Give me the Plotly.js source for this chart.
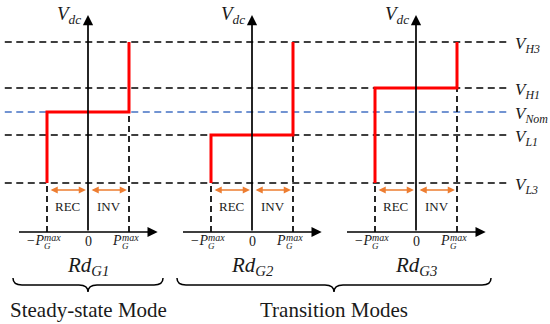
<!DOCTYPE html>
<html><head><meta charset="utf-8">
<script src="https://cdn.plot.ly/plotly-3.0.1.min.js"></script>
<style>html,body{margin:0;padding:0;background:#fff}#chart{width:550px;height:324px}</style>
</head><body><div id="chart"></div>
<script>
// ---- data ----
const levelNames = ['H3', 'H1', 'Nom', 'L1', 'L3'];
const levelValues = [190, 144, 120, 97, 49];      // V_dc levels (schematic units)
const panelNames = ['G1', 'G2', 'G3'];
const panelMidLevel = ['Nom', 'L1', 'H1'];        // level of the horizontal step in each panel
const panelOffsets = [0, 4, 8];                   // panel centres, in units of P_G^max
const pMax = 1;
const tickLabels = ['\u2212P', '0', 'P'];
const regionLabels = ['REC', 'INV'];
const modeNames = ['Steady-state Mode', 'Transition Modes'];
const modePanels = [[0], [1, 2]];

// ---- helpers ----
const lv = n => levelValues[levelNames.indexOf(n)];
const vLow = lv('L3');
const SERIF = 'Liberation Serif, Times New Roman, serif';
const INK = '#1a1a1a';
const traces = [];
const ann = [];
const shapes = [];

// horizontal dashed level lines
levelNames.forEach((n, i) => {
  traces.push({
    x: [-2.03, 10.24], y: [levelValues[i], levelValues[i]], mode: 'lines',
    line: {color: n === 'Nom' ? '#4472C4' : '#000', width: 1.7, dash: '7px,4.5px'},
    hoverinfo: 'skip'
  });
  ann.push({
    x: 10.37, y: levelValues[i], xref: 'x', yref: 'y', xanchor: 'left', yanchor: 'middle',
    yshift: -3, showarrow: false,
    text: '<i>V<sub>' + n + '</sub></i>', font: {family: SERIF, size: 17, color: INK}
  });
});

panelOffsets.forEach((off, p) => {
  const mid = lv(panelMidLevel[p]);
  // vertical dashed lines at +/- Pmax
  traces.push({x: [off - pMax, off - pMax], y: [0, vLow], mode: 'lines',
    line: {color: '#000', width: 1.7, dash: '6px,4px'}, hoverinfo: 'skip'});
  traces.push({x: [off + pMax, off + pMax], y: [0, mid], mode: 'lines',
    line: {color: '#000', width: 1.7, dash: '6px,4px'}, hoverinfo: 'skip'});
  // red droop characteristic
  traces.push({x: [off - pMax, off - pMax, off + pMax, off + pMax],
    y: [vLow, mid, mid, lv('H3')], mode: 'lines',
    line: {color: '#FF0000', width: 3}, hoverinfo: 'skip'});
  // axes (arrows)
  ann.push({x: off, y: 217, ax: off, ay: 0, xref: 'x', yref: 'y', axref: 'x', ayref: 'y',
    text: '', showarrow: true, arrowhead: 2, arrowsize: 1.2, arrowwidth: 1.7, arrowcolor: '#000', standoff: 0});
  ann.push({x: off + 1.7, y: 0, ax: off - 1.72, ay: 0, xref: 'x', yref: 'y', axref: 'x', ayref: 'y',
    text: '', showarrow: true, arrowhead: 2, arrowsize: 1.2, arrowwidth: 1.7, arrowcolor: '#000', standoff: 0});
  // orange REC / INV arrows
  [[-0.95, -0.05], [0.05, 0.95]].forEach((seg, k) => {
    ann.push({x: off + seg[1] * pMax, y: 42, ax: off + seg[0] * pMax, ay: 42,
      xref: 'x', yref: 'y', axref: 'x', ayref: 'y', text: '', showarrow: true,
      arrowside: 'end+start', arrowhead: 2, startarrowhead: 2, arrowsize: 0.9, startarrowsize: 0.9,
      arrowwidth: 1.6, arrowcolor: '#ED7D31', standoff: 0, startstandoff: 0});
    ann.push({x: off + (k === 0 ? -0.5 : 0.5) * pMax, y: 26, xref: 'x', yref: 'y', showarrow: false,
      text: regionLabels[k], font: {family: SERIF, size: 13, color: INK}});
  });
  // tick labels
  ann.push({x: off - pMax, y: -8, xref: 'x', yref: 'y', xanchor: 'right', xshift: -1, showarrow: false,
    text: '<i>' + tickLabels[0] + '</i>', font: {family: SERIF, size: 14, color: INK}});
  ann.push({x: off, y: -9, xref: 'x', yref: 'y', showarrow: false,
    text: tickLabels[1], font: {family: SERIF, size: 14, color: INK}});
  ann.push({x: off + pMax, y: -8, xref: 'x', yref: 'y', xanchor: 'right', xshift: -5, showarrow: false,
    text: '<i>' + tickLabels[2] + '</i>', font: {family: SERIF, size: 14, color: INK}});
  [[-pMax, -5], [pMax, -9]].forEach(([dx, sh]) => {
    ann.push({x: off + dx, y: -9, xref: 'x', yref: 'y', xanchor: 'left', xshift: sh, yshift: 4, showarrow: false,
      text: '<i>max</i>', font: {family: SERIF, size: 10, color: INK}});
    ann.push({x: off + dx, y: -9, xref: 'x', yref: 'y', xanchor: 'left', xshift: sh, yshift: -5, showarrow: false,
      text: '<i>G</i>', font: {family: SERIF, size: 9, color: INK}});
  });
  // panel name
  ann.push({x: off, y: -34, xref: 'x', yref: 'y', showarrow: false,
    text: '<i>Rd<sub>' + panelNames[p] + '</sub></i>', font: {family: SERIF, size: 21, color: INK}});
  // V_dc
  ann.push({x: off - 0.12, y: 217, xref: 'x', yref: 'y', xanchor: 'right', showarrow: false,
    text: '<i>V<sub>dc</sub></i>', font: {family: SERIF, size: 19, color: INK}});
});

// braces + mode names
modeNames.forEach((name, m) => {
  const ps = modePanels[m];
  const x0 = panelOffsets[ps[0]] - 1.83, x1 = panelOffsets[ps[ps.length - 1]] + 1.83;
  const xm = (panelOffsets[ps[0]] + panelOffsets[ps[ps.length - 1]]) / 2;
  const yt = -46, ym = -53, yb = -60, r = 0.22;
  shapes.push({type: 'path', xref: 'x', yref: 'y', line: {color: '#000', width: 1.5},
    path: `M${x0},${yt} Q${x0},${ym} ${x0 + r},${ym} L${xm - r},${ym} Q${xm},${ym} ${xm},${yb} ` +
          `Q${xm},${ym} ${xm + r},${ym} L${x1 - r},${ym} Q${x1},${ym} ${x1},${yt}`});
  ann.push({x: xm, y: -78, xref: 'x', yref: 'y', showarrow: false,
    text: name, font: {family: SERIF, size: 21, color: INK}});
});

const layout = {
  width: 550, height: 324, margin: {l: 0, r: 0, t: 0, b: 0},
  paper_bgcolor: '#fff', plot_bgcolor: '#fff', showlegend: false,
  xaxis: {range: [-88 / 41, 462 / 41], visible: false, fixedrange: true},
  yaxis: {range: [-92, 232], visible: false, fixedrange: true},
  annotations: ann, shapes: shapes
};
Plotly.newPlot('chart', traces, layout, {staticPlot: true});
</script></body></html>
